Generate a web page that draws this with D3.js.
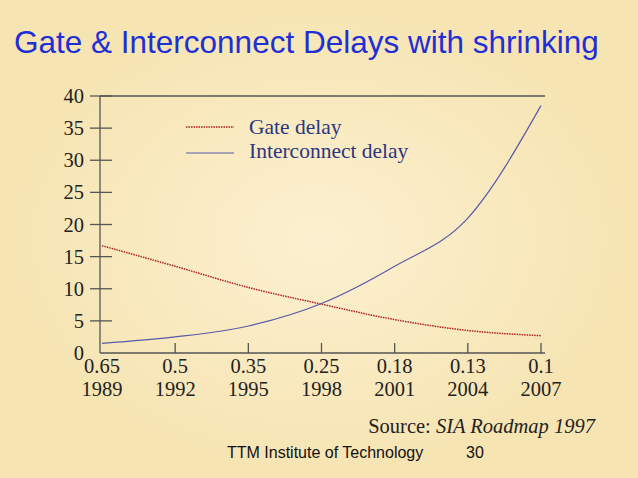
<!DOCTYPE html><html><head><script src="https://cdn.jsdelivr.net/npm/d3@7"></script>
<style>body{margin:0;background:#fbefcd}</style></head><body><script>
const sizes=["0.65","0.5","0.35","0.25","0.18","0.13","0.1"];
const years=["1989","1992","1995","1998","2001","2004","2007"];
const gateDelay=[16.7,13.5,10.2,7.6,5.2,3.5,2.7];
const interconnectDelay=[1.5,2.5,4.2,7.7,13.5,21,38.5];
const yTicks=[0,5,10,15,20,25,30,35,40];
const W=638,H=478;
const svg=d3.select("body").append("svg").attr("width",W).attr("height",H);
const g0=svg.append("defs").append("radialGradient").attr("id","bg");
g0.append("stop").attr("offset","0%").attr("stop-color","#fcf0d0");
g0.append("stop").attr("offset","100%").attr("stop-color","#f6e4b2");
svg.append("rect").attr("width",W).attr("height",H).attr("fill","url(#bg)");
svg.append("text").attr("x",14).attr("y",53).attr("font-family","Liberation Sans, Arial").attr("font-size",31.5).attr("fill","#1f2fd6").text("Gate & Interconnect Delays with shrinking");
const x=d3.scalePoint().domain(d3.range(7)).range([102,541]);
const y=d3.scaleLinear().domain([0,40]).range([353,96]);
const ax="#555";
svg.append("line").attr("x1",100).attr("x2",100).attr("y1",96).attr("y2",353).attr("stroke",ax).attr("stroke-width",1.3);
svg.append("line").attr("x1",100).attr("x2",545).attr("y1",96).attr("y2",96).attr("stroke",ax).attr("stroke-width",1.3);
svg.append("line").attr("x1",100).attr("x2",545).attr("y1",353).attr("y2",353).attr("stroke",ax).attr("stroke-width",1.3);
const serif="Liberation Serif, Times New Roman";
yTicks.forEach(v=>{
 if(v>0) svg.append("line").attr("x1",90).attr("x2",112).attr("y1",y(v)).attr("y2",y(v)).attr("stroke",ax).attr("stroke-width",1.3);
 svg.append("text").attr("x",84).attr("y",y(v)+7).attr("text-anchor","end").attr("font-family",serif).attr("font-size",20.5).attr("fill","#222").text(v);
});
d3.range(7).forEach(i=>{
 if(i>0) svg.append("line").attr("x1",x(i)).attr("x2",x(i)).attr("y1",343).attr("y2",353).attr("stroke",ax).attr("stroke-width",1.3);
 svg.append("text").attr("x",x(i)).attr("y",373).attr("text-anchor","middle").attr("font-family",serif).attr("font-size",20.5).attr("fill","#222").text(sizes[i]);
 svg.append("text").attr("x",x(i)).attr("y",396).attr("text-anchor","middle").attr("font-family",serif).attr("font-size",20.5).attr("fill","#222").text(years[i]);
});
const line=d3.line().x((d,i)=>x(i)).y(d=>y(d)).curve(d3.curveMonotoneX);
svg.append("path").attr("d",line(gateDelay)).attr("fill","none").attr("stroke","#b02020").attr("stroke-width",1.5).attr("stroke-dasharray","1.5,1");
svg.append("path").attr("d",line(interconnectDelay)).attr("fill","none").attr("stroke","#5a5aa8").attr("stroke-width",1.2);
svg.append("line").attr("x1",186).attr("x2",234).attr("y1",127).attr("y2",127).attr("stroke","#b02020").attr("stroke-width",1.5).attr("stroke-dasharray","1.5,1");
svg.append("line").attr("x1",186).attr("x2",234).attr("y1",153).attr("y2",153).attr("stroke","#5a5aa8").attr("stroke-width",1.2);
svg.append("text").attr("x",249).attr("y",134).attr("font-family",serif).attr("font-size",21.5).attr("fill","#2c3680").text("Gate delay");
svg.append("text").attr("x",249).attr("y",158).attr("font-family",serif).attr("font-size",21.5).attr("fill","#2c3680").text("Interconnect delay");
const s=svg.append("text").attr("x",595).attr("y",433).attr("text-anchor","end").attr("font-family",serif).attr("font-size",20.5).attr("fill","#222");
s.append("tspan").text("Source: ");s.append("tspan").attr("font-style","italic").text("SIA Roadmap 1997");
svg.append("text").attr("x",227).attr("y",458).attr("font-family","Liberation Sans, Arial").attr("font-size",16).attr("fill","#111").text("TTM Institute of Technology");
svg.append("text").attr("x",466).attr("y",458).attr("font-family","Liberation Sans, Arial").attr("font-size",16).attr("fill","#111").text("30");
</script></body></html>
